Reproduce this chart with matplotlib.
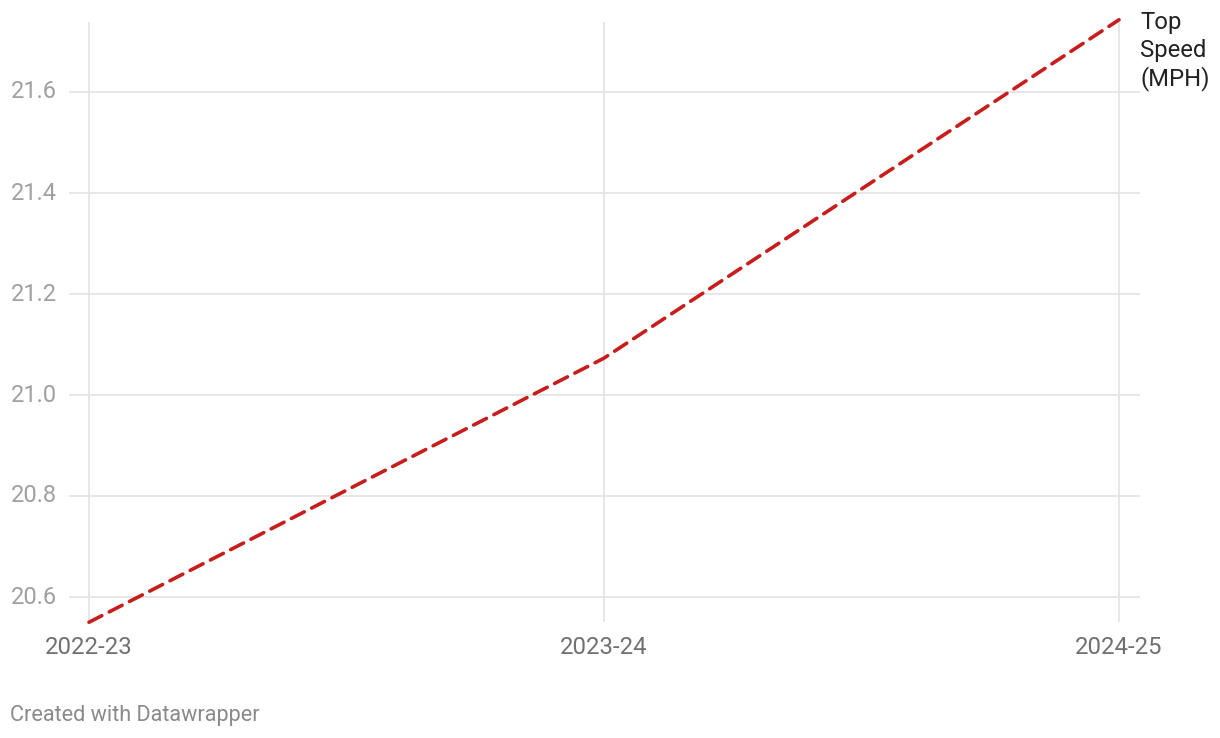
import matplotlib
matplotlib.use("Agg")
import matplotlib.pyplot as plt

plt.rcParams['font.family'] = ['Roboto', 'DejaVu Sans']

# Data
seasons = ["2022-23", "2023-24", "2024-25"]
top_speed = [20.55, 21.073, 21.743]
y_ticks = [20.6, 20.8, 21.0, 21.2, 21.4, 21.6]

W, H = 1220, 738
fig = plt.figure(figsize=(W / 100, H / 100), dpi=100)

# axes box in pixels: x 69..1140, y 22..622
ax = fig.add_axes([69 / W, 1 - 622 / H, (1140 - 69) / W, 600 / H])
ax.set_xlim(-20 / 515, 2 + 21 / 515)
ax.set_ylim(20.6 - 25 / 505, 21.6 + 70 / 505)

grid_col = "#e3e3e3"
for v in y_ticks:
    ax.axhline(v, color=grid_col, lw=1.2, zorder=1)
for i in range(len(seasons)):
    ax.axvline(i, color=grid_col, lw=1.2, zorder=1)

x = list(range(len(seasons)))
ax.plot(x, top_speed, color="#c71e1d", lw=2.6, linestyle=(0, (4.0, 2.3)),
        dash_capstyle="round", clip_on=False, zorder=3)

for sp in ax.spines.values():
    sp.set_visible(False)
ax.set_xticks([])
ax.set_yticks([])

for v in y_ticks:
    ax.text(-0.0388 - 12 / 515, v, f"{v:.1f}", ha="right", va="center",
            fontsize=17, color="#a0a0a0", transform=ax.transData)
for i, s in enumerate(seasons):
    fig.text((89 + 515 * i) / W, 1 - 648 / H, s, ha="center", va="center",
             fontsize=17.2, color="#707070")

fig.text(1140 / W, 1 - 11 / H, "Top\nSpeed\n(MPH)", ha="left", va="top",
         fontsize=17.2, color="#222222", linespacing=1.25)

fig.text(10 / W, 1 - 716 / H, "Created with Datawrapper", ha="left",
         va="center", fontsize=15.6, color="#8a8a8a")

fig.savefig("out.png", dpi=100)
